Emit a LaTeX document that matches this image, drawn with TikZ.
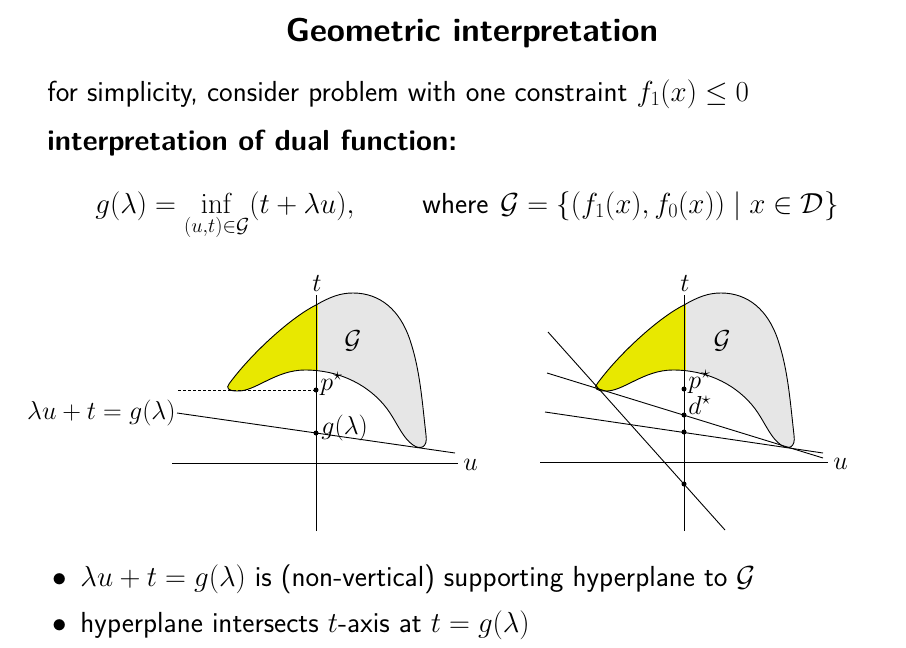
\documentclass[tikz,border=0pt]{standalone}
\usepackage{fix-cm}
\usepackage{amsmath}
\definecolor{Ggray}{HTML}{E6E6E6}
\definecolor{Gyellow}{HTML}{E8E800}
\newcommand{\Gpathdo}[1]{\path[#1] (229,384) .. controls (250,355) and (290,318) .. (316,305) .. controls (330,297) and (340,293) .. (353,293) .. controls (380,293) and (400,310) .. (410,340) .. controls (420,370) and (422,400) .. (426,435) .. controls (428,448) and (420,450) .. (413,445) .. controls (403,438) and (398,425) .. (390,413) .. controls (375,390) and (345,370) .. (305,370) .. controls (275,370) and (255,392) .. (237,391) .. controls (228,391) and (226,388) .. (229,384) -- cycle;}
\newcommand{\Gclipdo}{\clip (229,384) .. controls (250,355) and (290,318) .. (316,305) .. controls (330,297) and (340,293) .. (353,293) .. controls (380,293) and (400,310) .. (410,340) .. controls (420,370) and (422,400) .. (426,435) .. controls (428,448) and (420,450) .. (413,445) .. controls (403,438) and (398,425) .. (390,413) .. controls (375,390) and (345,370) .. (305,370) .. controls (275,370) and (255,392) .. (237,391) .. controls (228,391) and (226,388) .. (229,384) -- cycle;}
\newcommand{\Gfigure}{%
  \Gpathdo{fill=Ggray}
  \begin{scope}
    \Gclipdo
    \fill[Gyellow] (200,280) rectangle (318,460);
  \end{scope}
  \Gpathdo{draw,line width=0.9pt}
}
\begin{document}
\begin{tikzpicture}[x=1pt,y=-1pt,
  font=\fontsize{26}{30}\selectfont\sffamily,
  line width=0.9pt,
  txt/.style={anchor=base west,inner sep=0pt,font=\fontsize{29}{34}\selectfont\sffamily},
  dot/.style={circle,fill=black,inner sep=0pt,minimum size=5pt},
  lbl/.style={inner sep=1pt},
  blbl/.style={anchor=base west,inner sep=0pt}]
\useasboundingbox (0,0) rectangle (906,648);

% ---- text ----
\node[font=\fontsize{33}{38}\selectfont\sffamily\bfseries] (title) at (472,33) {Geometric interpretation};
\node[txt] (line1) at (47,101) {for simplicity, consider problem with one constraint $f_1(x)\le 0$};
\node[txt,font=\fontsize{29}{34}\selectfont\sffamily\bfseries] (line2) at (47,150) {interpretation of dual function:};
\node[txt] (form1) at (95,213) {$\displaystyle g(\lambda) = \inf_{(u,t)\in\mathcal{G}}(t+\lambda u),$};
\node[txt] (where) at (422,213) {where};
\node[txt] (form2) at (500,213) {$\mathcal{G} = \{(f_1(x), f_0(x)) \mid x\in\mathcal{D}\}$};
\node[txt] (bul1) at (52,586) {$\bullet$};
\node[txt] (item1) at (80,586) {$\lambda u + t = g(\lambda)$ is (non-vertical) supporting hyperplane to $\mathcal{G}$};
\node[txt] (bul2) at (52,632) {$\bullet$};
\node[txt] (item2) at (80,632) {hyperplane intersects $t$-axis at $t = g(\lambda)$};

% ---- left figure ----
\Gfigure
\coordinate (tLtop) at (316,295);
\coordinate (tLbot) at (316,531);
\coordinate (uLleft) at (172,463);
\coordinate (uLright) at (458,463);
\draw (tLbot) -- (tLtop);
\draw (uLleft) -- (uLright);
\node (tlabL) at (317,284) {$t$};
\node[anchor=west,lbl] (ulabL) at (462,465) {$u$};
\node (GlabL) at (353,341) {$\mathcal{G}$};
\coordinate (dashL) at (178,390);
\node[dot] (pL) at (316,390) {};
\draw[dashed,dash pattern=on 3pt off 2pt,line width=0.7pt] (dashL) -- (pL);
\node[blbl] (plabL) at (320,390) {$p^\star$};
\node[dot] (gL) at (316,433) {};
\node[blbl] (glabL) at (321,434) {$g(\lambda)$};
\node[anchor=east,lbl] (hlabL) at (177,413) {$\lambda u + t = g(\lambda)$};
\coordinate (hLend) at (455,453);
\draw (hlabL.east) -- (hLend);

% ---- right figure ----
\begin{scope}[shift={(368,0)}]
\Gfigure
\end{scope}
\coordinate (tRtop) at (684,295);
\coordinate (tRbot) at (684,531);
\coordinate (uRleft) at (540,462);
\coordinate (uRright) at (828,462);
\draw (tRbot) -- (tRtop);
\draw (uRleft) -- (uRright);
\node (tlabR) at (685,284) {$t$};
\node[anchor=west,lbl] (ulabR) at (832,464) {$u$};
\node (GlabR) at (722,341) {$\mathcal{G}$};
\coordinate (s1a) at (548,332);
\coordinate (s1b) at (725,530);
\coordinate (s2a) at (547,373);
\coordinate (s2b) at (823,458);
\coordinate (s3a) at (545,412);
\coordinate (s3b) at (823,453);
\draw (s1a) -- (s1b);
\draw (s2a) -- (s2b);
\draw (s3a) -- (s3b);
\node[dot] (pR) at (684,389) {};
\node[dot] (dR) at (684,415) {};
\node[dot] (gR) at (684,432) {};
\node[dot] (kR) at (684,484) {};
\node[blbl] (plabR) at (688,388) {$p^\star$};
\node[blbl] (dlabR) at (688,414) {$d^\star$};
\end{tikzpicture}
\end{document}
